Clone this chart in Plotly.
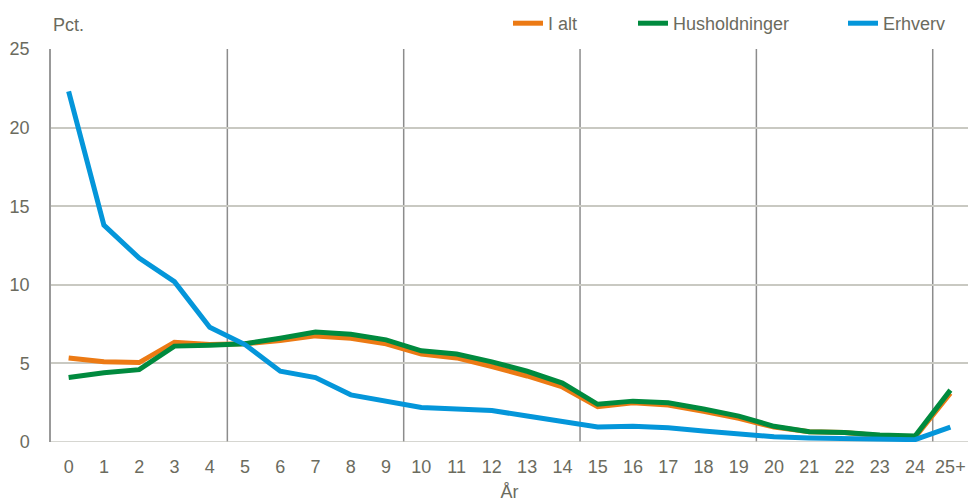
import plotly.graph_objects as go

categories = [str(i) for i in range(25)] + ["25+"]
i_alt = [5.35, 5.1, 5.05, 6.35, 6.2, 6.25, 6.45, 6.75, 6.6, 6.25, 5.6, 5.35, 4.8, 4.2, 3.5,
         2.25, 2.5, 2.35, 1.95, 1.5, 0.95, 0.65, 0.6, 0.4, 0.3, 3.1]
husholdninger = [4.1, 4.4, 4.6, 6.1, 6.15, 6.25, 6.6, 7.0, 6.85, 6.5, 5.8, 5.6, 5.1, 4.5, 3.75,
                 2.4, 2.6, 2.5, 2.1, 1.65, 1.0, 0.65, 0.6, 0.45, 0.38, 3.3]
erhverv = [22.3, 13.8, 11.7, 10.2, 7.3, 6.2, 4.5, 4.1, 3.0, 2.6, 2.2, 2.1, 2.0, 1.65, 1.3,
           0.95, 1.0, 0.9, 0.7, 0.5, 0.33, 0.25, 0.22, 0.18, 0.15, 0.95]
separators = [4.5, 9.5, 14.5, 19.5, 24.5]

TXT = "#6b6b5e"
FONT = "Liberation Sans, Arial, sans-serif"
FS = 18

W, H = 968, 502
ML, MR, MT, MB = 51, 0, 49, 60
PW, PH = W - ML - MR, H - MT - MB


def px_x(px):
    return (px - ML) / PW


def px_y(py):
    return (H - MB - py) / PH


series = [("I alt", i_alt, "#EC7A14", "legend", 508),
          ("Husholdninger", husholdninger, "#008A3E", "legend2", 633),
          ("Erhverv", erhverv, "#0496DA", "legend3", 843)]

fig = go.Figure()
legends = {}
for name, vals, col, lg, lx in series:
    fig.add_trace(go.Scatter(x=categories, y=vals, name=name, mode="lines",
                             line=dict(color=col, width=5), legend=lg))
    legends[lg] = dict(orientation="h", x=px_x(lx), xanchor="left",
                       y=px_y(5), yanchor="top", bgcolor="rgba(0,0,0,0)",
                       font=dict(family=FONT, size=FS, color=TXT))

for s in separators:
    fig.add_shape(type="line", xref="x", yref="paper", x0=s, x1=s, y0=0, y1=1,
                  line=dict(color="#8c8c8c", width=1.5), layer="below")

fig.update_layout(
    width=W, height=H,
    margin=dict(l=ML, r=MR, t=MT, b=MB, autoexpand=False),
    paper_bgcolor="white", plot_bgcolor="white",
    font=dict(family=FONT, size=FS, color=TXT),
    showlegend=True,
    xaxis=dict(type="category", range=[-0.5, 25.5], showgrid=False, zeroline=False,
               showline=False, ticks="", automargin=False, ticklabelstandoff=12,
               tickfont=dict(size=FS, color=TXT),
               title=dict(text="År", font=dict(size=FS, color=TXT), standoff=10)),
    yaxis=dict(range=[0, 25], dtick=5, showgrid=True, gridcolor="#c9c9c2", gridwidth=1.5,
               zeroline=False, showline=True, linecolor="#999999", linewidth=1.5,
               ticks="", automargin=False, tickfont=dict(size=FS, color=TXT),
               ticklabelstandoff=16),
    annotations=[dict(text="Pct.", xref="paper", yref="paper", x=0, y=1, yshift=12,
                      xanchor="left", yanchor="bottom", showarrow=False,
                      font=dict(size=FS, color=TXT))],
    **legends,
)
fig.add_shape(type="line", xref="paper", yref="y", x0=0, x1=1, y0=0, y1=0,
              line=dict(color="#c9c9c2", width=1.5), layer="below")

fig.write_html(
    "out.html",
    config={"displayModeBar": False},
    post_script="document.body.style.margin='0';document.body.style.overflow='hidden';",
)
